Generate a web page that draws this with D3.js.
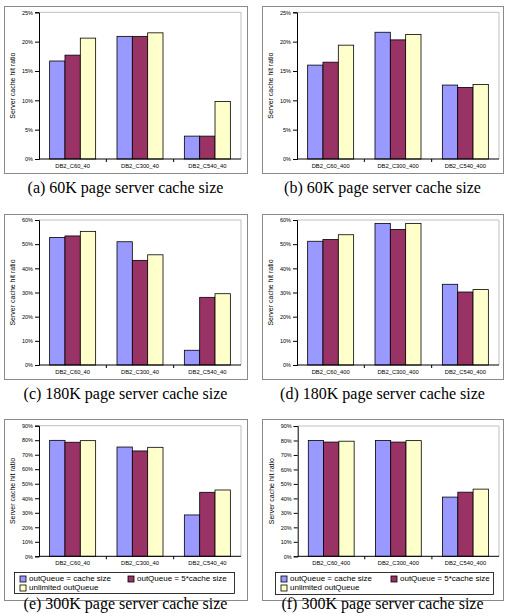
<!DOCTYPE html>
<html>
<head>
<meta charset="utf-8">
<script src="https://cdn.jsdelivr.net/npm/d3@7"></script>
<style>
html,body{margin:0;padding:0;background:#fff;}
svg{display:block;}
</style>
</head>
<body>
<svg id="chart" width="507" height="613"></svg>
<script>
// ---- data ----
const categories40 = ["DB2_C60_40", "DB2_C300_40", "DB2_C540_40"];
const categories400 = ["DB2_C60_400", "DB2_C300_400", "DB2_C540_400"];
const seriesNames = ["outQueue = cache size", "outQueue = 5*cache size", "unlimited outQueue"];

// values in %, one array per series (cache size, 5*cache size, unlimited)
const panelA = [[16.7, 20.9, 3.9], [17.7, 20.9, 3.9], [20.6, 21.5, 9.8]];
const panelB = [[16.0, 21.6, 12.6], [16.5, 20.3, 12.2], [19.4, 21.2, 12.7]];
const panelC = [[52.8, 51.0, 6.1], [53.4, 43.3, 28.0], [55.3, 45.6, 29.5]];
const panelD = [[51.2, 58.6, 33.4], [51.9, 56.1, 30.2], [53.9, 58.6, 31.2]];
const panelE = [[79.9, 75.3, 28.5], [78.6, 72.6, 44.1], [79.7, 75.1, 45.7]];
const panelF = [[80.0, 80.0, 40.9], [78.9, 78.9, 44.3], [79.5, 79.9, 46.4]];

const yTicks25 = [0, 5, 10, 15, 20, 25];
const yTicks60 = [0, 10, 20, 30, 40, 50, 60];
const yTicks90 = [0, 10, 20, 30, 40, 50, 60, 70, 80, 90];

const captions = [
  "(a) 60K page server cache size",
  "(b) 60K page server cache size",
  "(c) 180K page server cache size",
  "(d) 180K page server cache size",
  "(e) 300K page server cache size",
  "(f) 300K page server cache size"
];
const yAxisTitle = "Server cache hit ratio";

// ---- styles / layout ----
const colors = ["#9999FF", "#993366", "#FFFFCC"];
const sans = "Arial, 'Liberation Sans', sans-serif";
const serif = "'Liberation Serif', 'Times New Roman', serif";

const panels = [
  {cats: categories40, data: panelA, ticks: yTicks25, caption: captions[0],
   frame: [4, 6, 247, 173], plot: {l: 39, r: 241, t: 12.3, b: 159}, capY: 193},
  {cats: categories400, data: panelB, ticks: yTicks25, caption: captions[1],
   frame: [262, 6, 503, 173], plot: {l: 297, r: 499, t: 12.3, b: 159}, capY: 193},
  {cats: categories40, data: panelC, ticks: yTicks60, caption: captions[2],
   frame: [4, 214, 247, 379], plot: {l: 39, r: 241, t: 220, b: 365}, capY: 399},
  {cats: categories400, data: panelD, ticks: yTicks60, caption: captions[3],
   frame: [262, 214, 503, 379], plot: {l: 297, r: 499, t: 220, b: 365}, capY: 399},
  {cats: categories40, data: panelE, ticks: yTicks90, caption: captions[4],
   frame: [4, 419, 247, 600], plot: {l: 39, r: 241, t: 425.7, b: 556.3}, capY: 609,
   legend: [14, 572, 234, 593], legendCol2: 114},
  {cats: categories400, data: panelF, ticks: yTicks90, caption: captions[5],
   frame: [262, 419, 503, 600], plot: {l: 297.7, r: 499, t: 426, b: 556.3}, capY: 609,
   legend: [275, 572, 493, 594], legendCol2: 116}
];

const svg = d3.select("#chart");

panels.forEach(p => {
  const g = svg.append("g");
  const [fx0, fy0, fx1, fy1] = p.frame;
  g.append("rect").attr("x", fx0 + 0.5).attr("y", fy0 + 0.5)
    .attr("width", fx1 - fx0).attr("height", fy1 - fy0)
    .attr("fill", "#fff").attr("stroke", "#8a8a8a").attr("stroke-width", 1);

  const pl = p.plot;
  // plot area border (top & right, light gray)
  g.append("path")
    .attr("d", `M${pl.l},${pl.t}H${pl.r}V${pl.b}`)
    .attr("fill", "none").attr("stroke", "#c0c0c0").attr("stroke-width", 1);

  const x0 = d3.scaleBand().domain(p.cats).range([pl.l, pl.r])
    .paddingInner(0.317).paddingOuter(0.158);
  const x1 = d3.scaleBand().domain(d3.range(seriesNames.length)).range([0, x0.bandwidth()]);
  const y = d3.scaleLinear().domain([0, d3.max(p.ticks)]).range([pl.b, pl.t]);

  // bars
  p.data.forEach((series, si) => {
    g.append("g").selectAll("rect").data(series).join("rect")
      .attr("x", (d, i) => x0(p.cats[i]) + x1(si))
      .attr("y", d => y(d))
      .attr("width", x1.bandwidth())
      .attr("height", d => y(0) - y(d))
      .attr("fill", colors[si])
      .attr("stroke", "#000").attr("stroke-width", 0.8);
  });

  // y axis
  const ya = g.append("g").attr("transform", `translate(${pl.l},0)`)
    .call(d3.axisLeft(y).tickValues(p.ticks).tickFormat(d => d + "%").tickSize(4).tickPadding(2));
  ya.selectAll("text").attr("font-family", sans).attr("font-size", 5.5).attr("fill", "#000");
  ya.select(".domain").attr("stroke", "#000");
  ya.selectAll(".tick line").attr("stroke", "#000");

  // x axis
  const xa = g.append("g").attr("transform", `translate(0,${pl.b})`)
    .call(d3.axisBottom(x0).tickSize(0).tickPadding(5));
  xa.select(".domain").attr("d", `M${pl.l},0H${pl.r}`).attr("stroke", "#000");
  xa.selectAll("text").attr("font-family", sans).attr("font-size", 5.8).attr("fill", "#000");
  // category separator ticks
  const seps = d3.range(p.cats.length + 1).map(i => pl.l + i * (pl.r - pl.l) / p.cats.length);
  xa.append("g").selectAll("line").data(seps.slice(1, -1)).join("line")
    .attr("x1", d => d).attr("x2", d => d).attr("y1", 0).attr("y2", 3)
    .attr("stroke", "#000");

  // y axis title
  const cy = (pl.t + pl.b) / 2;
  g.append("text")
    .attr("transform", `translate(${pl.l - 26},${cy}) rotate(-90)`)
    .attr("text-anchor", "middle").attr("dominant-baseline", "middle")
    .attr("font-family", sans).attr("font-size", 7).attr("fill", "#000")
    .text(yAxisTitle);

  // legend
  if (p.legend) {
    const [lx0, ly0, lx1, ly1] = p.legend;
    g.append("rect").attr("x", lx0 + 0.5).attr("y", ly0 + 0.5)
      .attr("width", lx1 - lx0).attr("height", ly1 - ly0)
      .attr("fill", "#fff").attr("stroke", "#000").attr("stroke-width", 0.8);
    const pos = [[lx0 + 6, ly0 + 4], [lx0 + p.legendCol2, ly0 + 4], [lx0 + 6, ly0 + 13]];
    seriesNames.forEach((name, i) => {
      const [sx, sy] = pos[i];
      g.append("rect").attr("x", sx).attr("y", sy).attr("width", 6).attr("height", 6)
        .attr("fill", colors[i]).attr("stroke", "#000").attr("stroke-width", 0.8);
      g.append("text").attr("x", sx + 9).attr("y", sy + 3)
        .attr("dominant-baseline", "middle")
        .attr("font-family", sans).attr("font-size", 8).attr("fill", "#000")
        .text(name);
    });
  }

  // caption
  g.append("text")
    .attr("x", (fx0 + fx1) / 2).attr("y", p.capY)
    .attr("text-anchor", "middle")
    .attr("font-family", serif).attr("font-size", 16).attr("fill", "#000")
    .text(p.caption);
});
</script>
</body>
</html>
